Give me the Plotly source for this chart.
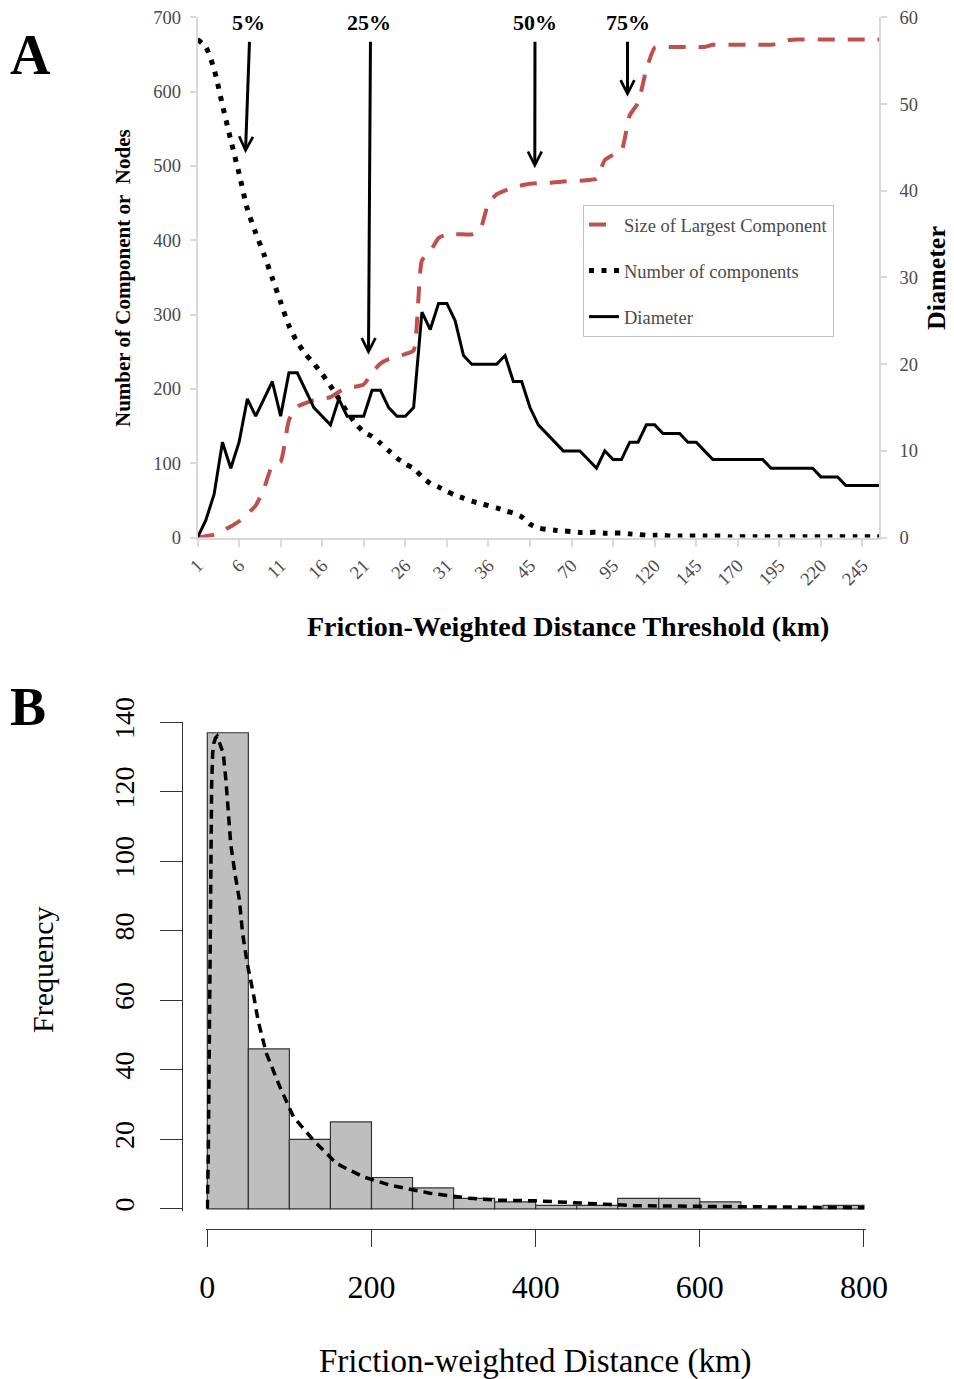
import plotly.graph_objects as go

W, H = 954, 1379

# ---------------- Panel A data ----------------
thresholds = [1, 2, 3, 4, 5, 6, 7, 8, 9, 10, 11, 12, 13, 14, 15, 16, 17, 18, 19, 20,
              21, 22, 23, 24, 25, 26, 27, 28, 29, 30, 31, 32, 33, 34, 35, 36, 37, 38, 39, 40,
              45, 50, 55, 60, 65, 70, 75, 80, 85, 90, 95, 100, 105, 110, 115, 120, 125, 130,
              135, 140, 145, 150, 155, 160, 165, 170, 175, 180, 185, 190, 195, 200, 205, 210,
              215, 220, 225, 230, 235, 240, 245, 250, 255]

largest_component = [0, 2, 4, 9, 15, 22, 32, 43, 66, 97, 102, 158, 176, 181, 185, 187, 189, 196, 202, 203,
                     206, 222, 234, 240, 243, 247, 252, 373, 385, 403, 408, 408, 408, 408, 414, 450, 462, 467, 471, 474,
                     476, 477, 477, 478, 479, 480, 480, 481, 483, 508, 515, 520, 568, 585, 630, 659, 660, 660,
                     660, 660, 660, 660, 663, 663, 663, 663, 663, 663, 663, 663, 665, 669, 670, 670,
                     670, 670, 670, 670, 670, 670, 670, 670, 670]

num_components = [670, 660, 630, 582, 535, 490, 442, 410, 381, 349, 317, 285, 263, 247, 234, 220, 204, 187, 169, 154,
                  142, 136, 127, 117, 107, 99, 93, 82, 73, 68, 62, 57, 53, 49, 46, 43, 40, 36, 33, 28,
                  18, 13, 11, 10, 9, 8, 7, 7, 7, 6, 6, 6, 5, 4, 3, 3, 3, 2,
                  2, 2, 2, 2, 2, 2, 1, 1, 1, 1, 1, 1, 1, 1, 1, 1,
                  1, 1, 1, 1, 1, 1, 1, 1, 1]

diameter = [0, 2, 5, 11, 8, 11, 16, 14, 16, 18, 14, 19, 19, 17, 15, 14, 13, 16, 14, 14,
            14, 17, 17, 15, 14, 14, 15, 26, 24, 27, 27, 25, 21, 20, 20, 20, 20, 21, 18, 18,
            15, 13, 12, 11, 10, 10, 10, 9, 8, 10, 9, 9, 11, 11, 13, 13, 12, 12,
            12, 11, 11, 10, 9, 9, 9, 9, 9, 9, 9, 8, 8, 8, 8, 8,
            8, 7, 7, 7, 6, 6, 6, 6, 6]

# arrow markers: (label, tip index, tip value, tail index, tail value)
arrow_labels = ["5%", "25%", "50%", "75%"]
arrow_tip_x = [5.77, 20.57, 40.58, 51.73]
arrow_tip_y = [517, 246, 497, 593]
arrow_tail_x = [6.26, 20.81, 40.60, 51.73]
arrow_tail_y = [669, 669, 669, 669]
arrow_label_x = [6.08, 20.63, 40.60, 51.80]

# ---------------- Panel B data ----------------
bin_edges = [0, 50, 100, 150, 200, 250, 300, 350, 400, 450, 500, 550, 600, 650, 700, 750, 800]
counts = [137, 46, 20, 25, 9, 6, 3, 2, 1, 1, 3, 3, 2, 0, 0, 1]

density_x = [0, 0.5, 1.2, 1.8, 2.5, 3.3, 4.1, 5.3, 6.5, 8, 10, 12, 15, 19.5, 22.8, 25.4, 28.5,
             33.7, 39, 43.1, 48.7, 56, 62, 72, 88.6, 104.8, 129, 157.6, 190, 222.5, 271, 320,
             352, 400, 440, 480, 520, 560, 600, 650, 700, 750, 800]
density_y = [0, 5, 15, 30, 55, 79, 97, 122, 131, 134, 135.5, 136, 134, 131, 123, 115, 105,
             96.5, 89, 79, 70.6, 62, 54, 44.7, 35, 26.5, 19.8, 13, 9.2, 6.8, 4.5, 3,
             2.5, 2.3, 1.8, 1.3, 0.9, 0.8, 0.7, 0.5, 0.3, 0.3, 0.3]

cats = [str(t) for t in thresholds]
bin_widths = [b - a for a, b in zip(bin_edges[:-1], bin_edges[1:])]

SERIF = "Liberation Serif, Times New Roman, serif"
GRAY_AX = "#D9D9D9"
GRAY_TXT = "#4A4A4A"

fig = go.Figure()

fig.add_trace(go.Scatter(
    x=cats, y=largest_component, name="Size of Largest Component", mode="lines",
    line=dict(color="#C0504D", width=4, dash="17px,13px", shape="spline", smoothing=0.5),
    xaxis="x", yaxis="y", legendgroup="g1"))
fig.add_trace(go.Scatter(
    x=cats, y=num_components, name="Number of components", mode="lines",
    line=dict(color="black", width=5, dash="5px,7.5px", shape="spline", smoothing=0.7),
    xaxis="x", yaxis="y", legendgroup="g2"))
fig.add_trace(go.Scatter(
    x=cats, y=diameter, name="Diameter", mode="lines",
    line=dict(color="black", width=3),
    xaxis="x", yaxis="y2", legendgroup="g3"))

fig.add_trace(go.Bar(
    x=bin_edges[:-1], y=counts, width=bin_widths, offset=0,
    marker=dict(color="#BEBEBE", line=dict(color="#333333", width=1.2)),
    xaxis="x2", yaxis="y3", showlegend=False))
fig.add_trace(go.Scatter(
    x=density_x, y=density_y, mode="lines",
    line=dict(color="black", width=3.5, dash="9px,6px"),
    xaxis="x2", yaxis="y3", showlegend=False))


def fx(px):
    return px / W


def fy(py):
    return 1 - py / H


# Panel A geometry
xa_left, xa_right = 197.5, 879.1
ya_top, ya_bot = 17.3, 537.6
# Panel B geometry (0 -> 207.3 px, 800 -> 864 px)
ppu_x = (864 - 207.3) / 800.0
xb_left, xb_right = 207.3 - 2 * ppu_x, 864 + 2 * ppu_x
ppu_y = (1208.8 - 722.3) / 140.0
yb_top, yb_bot = 722.3, 1208.8 + 0.5 * ppu_y

axis_a_common = dict(showgrid=False, zeroline=False, showline=True, linecolor=GRAY_AX,
                     linewidth=1.5, ticks="outside", tickcolor=GRAY_AX, tickwidth=1.5,
                     automargin=False)

fig.update_layout(
    template="none",
    width=W, height=H, margin=dict(l=0, r=0, t=0, b=0, pad=0, autoexpand=False),
    paper_bgcolor="white", plot_bgcolor="white",
    font=dict(family=SERIF, color="black"),
    showlegend=True,
    legend=dict(x=fx(583), y=fy(205), xanchor="left", yanchor="top",
                bordercolor="#BFBFBF", borderwidth=1, bgcolor="white",
                font=dict(size=18.5, color=GRAY_TXT, family=SERIF),
                tracegroupgap=19, traceorder="grouped", itemwidth=30),
    xaxis=dict(domain=[fx(xa_left), fx(xa_right)], anchor="y", type="category",
               range=[0, len(cats) - 1], tickmode="array", tickvals=cats[::5], ticktext=cats[::5],
               tickangle=-45, ticklen=8, tickfont=dict(size=18.5, color=GRAY_TXT),
               **axis_a_common),
    yaxis=dict(domain=[fy(ya_bot), fy(ya_top)], anchor="x", range=[0, 700], dtick=100,
               ticklen=6, tickfont=dict(size=18.5, color=GRAY_TXT), ticklabelstandoff=5,
               **axis_a_common),
    yaxis2=dict(overlaying="y", side="right", anchor="x", range=[0, 60], dtick=10,
                ticklen=6, tickfont=dict(size=18.5, color=GRAY_TXT), ticklabelstandoff=9,
                **axis_a_common),
    xaxis2=dict(domain=[fx(xb_left), fx(xb_right)], anchor="free", position=fy(1229.3),
                range=[-2, 802], tickmode="array", tickvals=[0, 200, 400, 600, 800],
                ticks="outside", ticklen=17, tickcolor="#333333", tickwidth=1.2,
                showline=True, linecolor="#333333", linewidth=1.2, showgrid=False, zeroline=False,
                tickfont=dict(size=32, color="black"), ticklabelstandoff=12, automargin=False),
    yaxis3=dict(domain=[fy(yb_bot), fy(yb_top)], anchor="free", position=fx(181.7),
                range=[-0.5, 140], tickmode="array", tickvals=[0, 20, 40, 60, 80, 100, 120, 140],
                ticks="outside", ticklen=22, tickcolor="#333333", tickwidth=1.2,
                showline=True, linecolor="#333333", linewidth=1.2, showgrid=False, zeroline=False,
                tickangle=-90, tickfont=dict(size=28, color="black"), ticklabelstandoff=14,
                automargin=False),
)

annotations = [
    dict(text="<b>A</b>", x=fx(31), y=fy(55), xref="paper", yref="paper", showarrow=False,
         font=dict(size=56, family=SERIF, color="black"), xanchor="center", yanchor="middle"),
    dict(text="<b>B</b>", x=fx(28), y=fy(707), xref="paper", yref="paper", showarrow=False,
         font=dict(size=54, family=SERIF, color="black"), xanchor="center", yanchor="middle"),
    dict(text="<b>Number of Component or\u00a0 Nodes</b>", x=fx(123), y=fy(278), xref="paper",
         yref="paper", showarrow=False, textangle=-90,
         font=dict(size=21, family=SERIF, color="black"), xanchor="center", yanchor="middle"),
    dict(text="<b>Diameter</b>", x=fx(936), y=fy(278), xref="paper", yref="paper",
         showarrow=False, textangle=-90, font=dict(size=26, family=SERIF, color="black"),
         xanchor="center", yanchor="middle"),
    dict(text="<b>Friction-Weighted Distance Threshold (km)</b>", x=fx(568), y=fy(627),
         xref="paper", yref="paper", showarrow=False,
         font=dict(size=28, family=SERIF, color="black"), xanchor="center", yanchor="middle"),
    dict(text="Frequency", x=fx(42), y=fy(970), xref="paper", yref="paper", showarrow=False,
         textangle=-90, font=dict(size=30, family=SERIF, color="black"),
         xanchor="center", yanchor="middle"),
    dict(text="Friction-weighted Distance (km)", x=fx(535), y=fy(1361), xref="paper",
         yref="paper", showarrow=False, font=dict(size=33, family=SERIF, color="black"),
         xanchor="center", yanchor="middle"),
]

for lab, tx, ty, ax, ay, lx in zip(arrow_labels, arrow_tip_x, arrow_tip_y,
                                    arrow_tail_x, arrow_tail_y, arrow_label_x):
    annotations.append(dict(x=tx, y=ty, xref="x", yref="y", ax=ax, ay=ay, axref="x", ayref="y",
                            text="", showarrow=True, arrowhead=5, arrowsize=0.9,
                            arrowwidth=3, arrowcolor="black", standoff=0, startstandoff=0))
    annotations.append(dict(text="<b>" + lab + "</b>", x=lx, y=fy(22), xref="x", yref="paper",
                            showarrow=False, font=dict(size=22, family=SERIF, color="black"),
                            xanchor="center", yanchor="middle"))

fig.update_layout(annotations=annotations)

fig.write_html("out.html")
